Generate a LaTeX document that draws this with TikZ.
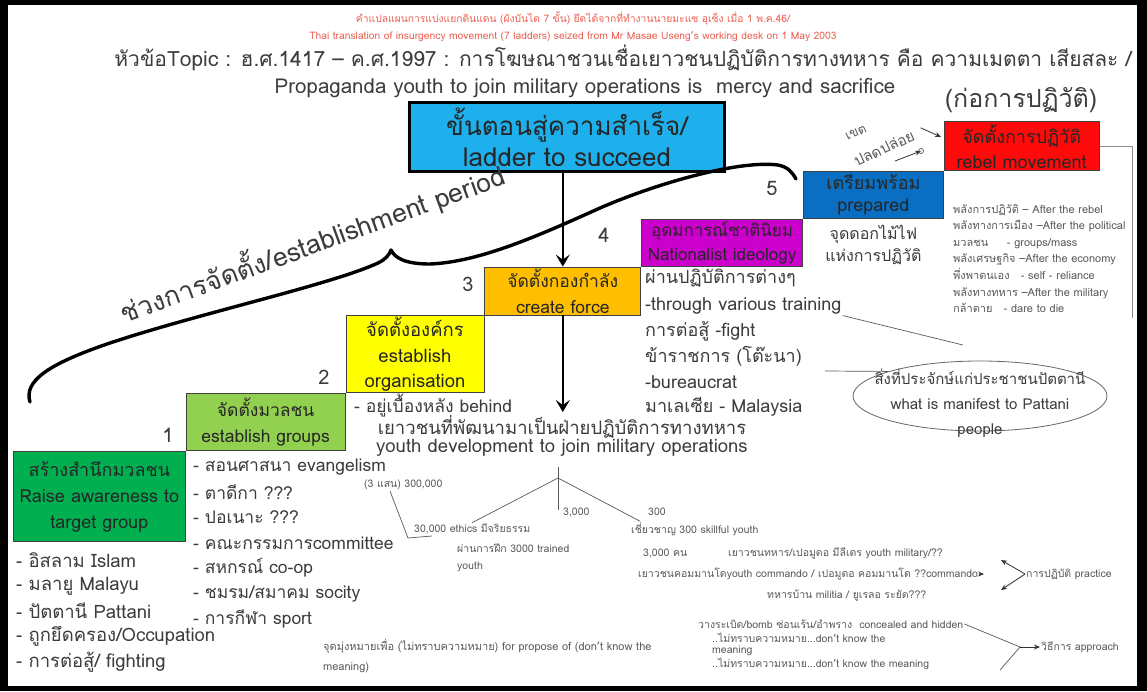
\documentclass[tikz,border=0pt]{standalone}
\usepackage{fontspec}
\setmainfont{Loma}[Script=Thai]
\usetikzlibrary{arrows.meta,shapes.geometric,positioning}

\definecolor{cyanbox}{HTML}{1EB0EC}
\definecolor{redbox}{HTML}{FF0A0A}
\definecolor{bluebox}{HTML}{0A6FC2}
\definecolor{magentabox}{HTML}{CC00CC}
\definecolor{orangebox}{HTML}{FFBF00}
\definecolor{yellowbox}{HTML}{FFFF00}
\definecolor{limebox}{HTML}{92D050}
\definecolor{greenbox}{HTML}{00B050}
\definecolor{headred}{HTML}{EC5F50}
\definecolor{inkgray}{HTML}{3C3C3C}
\definecolor{notegray}{HTML}{5A5A5A}

\begin{document}
\begin{tikzpicture}[x=1pt,y=-1pt,
  stepbox/.style={draw=black!75,line width=0.8pt,inner sep=0pt,align=center,text=black!85,font={\fontsize{17.5}{26}\selectfont}},
  stepnum/.style={text=inkgray,font={\fontsize{20}{22}\selectfont}},
  bigline/.style={text=inkgray,anchor=west,inner sep=1pt,font={\fontsize{17.5}{20}\selectfont}},
  smallnote/.style={text=notegray,anchor=west,inner sep=1pt,font={\fontsize{10.5}{12}\selectfont}},
  thinline/.style={draw=black!65,line width=0.7pt},
  tipline/.style={draw=black!80,line width=0.8pt,-{Stealth[length=6pt,width=5pt]}},
  bigarrow/.style={draw=black,line width=1.8pt,-{Stealth[length=12pt,width=14pt,inset=5pt]}}]
  % frame
  \fill[black] (0,0) rectangle (1147,691);
  \fill[white] (8,5) rectangle (1137,686);

  % headings
  \node[text=headred,font={\fontsize{10.3}{12}\selectfont}] (head th) at (573,18) {คำแปลแผนการแบ่งแยกดินแดน (ผังบันได 7 ขั้น) ยึดได้จากที่ทำงานนายมะแซ อุเซ็ง เมื่อ 1 พ.ค.46/};
  \node[text=headred,font={\fontsize{10.3}{12}\selectfont}] (head en) at (573,37) {Thai translation of insurgency movement (7 ladders) seized from Mr Masae Useng's working desk on 1 May 2003};
  \node[text=inkgray,font={\fontsize{21}{24}\selectfont}] (topic th) at (623,58) {หัวข้อTopic : ฮ.ศ.1417 – ค.ศ.1997 : การโฆษณาชวนเชื่อเยาวชนปฏิบัติการทางทหาร คือ ความเมตตา เสียสละ /};
  \node[text=inkgray,font={\fontsize{20.5}{24}\selectfont}] (topic en) at (585,88) {Propaganda youth to join military operations is\ \ mercy and sacrifice};
  \node[text=inkgray,font={\fontsize{25}{28}\selectfont}] (revolt) at (1021,100) {(ก่อการปฏิวัติ)};

  % ladder of seven steps
  \node[stepbox,fill=cyanbox,draw=black,line width=2.2pt,minimum width=315,minimum height=69,font={\fontsize{26}{31}\selectfont}] (ladder top) at (567,137) {ขั้นตอนสู่ความสำเร็จ/\\ladder to succeed};
  \node[stepbox,fill=greenbox,minimum width=172,minimum height=90,font={\fontsize{18}{26}\selectfont},anchor=north west] (awareness) at (13,451) {สร้างสำนึกมวลชน\\Raise awareness to\\target group};
  \node[stepbox,fill=limebox,minimum width=159,minimum height=57,anchor=south west] (groups) at (awareness.north east) {จัดตั้งมวลชน\\establish groups};
  \node[stepbox,fill=yellowbox,minimum width=138,minimum height=77,font={\fontsize{18.5}{25.5}\selectfont},anchor=south west] (organisation) at (groups.north east) {จัดตั้งองค์กร\\establish\\organisation};
  \node[stepbox,fill=orangebox,minimum width=156,minimum height=48,font={\fontsize{17.5}{26}\selectfont},anchor=south west] (force) at (organisation.north east) {จัดตั้งกองกำลัง\\create force};
  \node[stepbox,fill=magentabox,minimum width=161,minimum height=47,font={\fontsize{17}{24}\selectfont},anchor=south west] (ideology) at (force.north east) {อุดมการณ์ชาตินิยม\\Nationalist ideology};
  \node[stepbox,fill=bluebox,minimum width=140,minimum height=47,font={\fontsize{18}{22}\selectfont},anchor=south west] (prepared) at (ideology.north east) {เตรียมพร้อม\\prepared};
  \node[stepbox,fill=redbox,minimum width=155,minimum height=49,font={\fontsize{18}{25}\selectfont},anchor=south west] (rebel) at (prepared.north east) {จัดตั้งการปฏิวัติ\\rebel movement};

  \node[stepnum] (num 1) at (168,435) {1};
  \node[stepnum] (num 2) at (324,377) {2};
  \node[stepnum] (num 3) at (468,284) {3};
  \node[stepnum] (num 4) at (604,235) {4};
  \node[stepnum] (num 5) at (772,188) {5};

  % brace over the establishment period
  \draw[line width=3.4pt,line cap=round,line join=round]
    (30,402) .. controls (24,382) and (45,365) .. (110,343)
    .. controls (200,313) and (330,285) .. (378,263)
    .. controls (386,259) and (389,255) .. (391,250)
    .. controls (395,258) and (405,264) .. (430,264)
    .. controls (480,262) and (540,235) .. (600,208)
    .. controls (660,182) and (740,160) .. (778,165)
    .. controls (788,167) and (792,172) .. (796,179);
  \node[rotate=20,text=inkgray,font={\fontsize{26.5}{28}\selectfont}] (period) at (312,243) {ช่วงการจัดตั้ง/establishment period};

  % arrows down the middle
  \node[text=inkgray,align=center,font={\fontsize{18.5}{15}\selectfont}] (youth dev) at (562,436) {เยาวชนที่พัฒนามาเป็นฝ่ายปฏิบัติการทางทหาร\\youth development to join military operations};
  \draw[bigarrow] (ladder top.south -| force.north) -- (force.north);
  \draw[bigarrow] (force.south) -- (force.south |- youth dev.north);
  \node[bigline] (behind) at (353,406) {- อยู่เบื้องหลัง behind};

  % liberation zone
  \node[rotate=25,text=notegray,font={\fontsize{13}{14}\selectfont}] (zone) at (856,133) {เขต};
  \node[rotate=25,text=notegray,font={\fontsize{15}{16}\selectfont}] (free) at (884,148) {ปลดปล่อย};
  \coordinate (free tip) at (941,137);
  \coordinate (free base) at (895,161);
  \coordinate (free knot) at (921,151);
  \draw[tipline] ([shift={(4,-5)}]free.east) -- (free tip);
  \draw[tipline] (free base) -- (free knot);
  \draw[thinline] (free knot) circle (2.5);

  % after the rebellion
  \coordinate (rebel end) at (1132,318);
  \draw[thinline,draw=black!45] (rebel.east) -| (rebel end);
  \node[smallnote,anchor=north west,align=left,font={\fontsize{11}{16.6}\selectfont}] (rebel powers) at (952,203) {พลังการปฏิวัติ – After the rebel\\พลังทางการเมือง –After the political\\มวลชน\ \ \ \ \ - groups/mass\\พลังเศรษฐกิจ –After the economy\\พึ่งพาตนเอง\ \ \ - self - reliance\\พลังทางทหาร –After the military\\กล้าตาย\ \ \ - dare to die};
  \node[below=3pt of prepared,align=center,text=inkgray,font={\fontsize{16}{22}\selectfont}] (fireworks) {จุดดอกไม้ไฟ\\แห่งการปฏิวัติ};

  % training list
  \node[bigline,font={\fontsize{18}{20}\selectfont}] (through th) at (644,278) {ผ่านปฏิบัติการต่างๆ};
  \node[bigline,font={\fontsize{18}{20}\selectfont}] (through en) at (644,306) {-through various training};
  \node[bigline,font={\fontsize{18}{20}\selectfont}] (fight) at (644,331) {การต่อสู้ -fight};
  \node[bigline,font={\fontsize{18}{20}\selectfont}] (bureau th) at (644,356) {ข้าราชการ (โต๊ะนา)};
  \node[bigline,font={\fontsize{18}{20}\selectfont}] (bureau en) at (644,382) {-bureaucrat};
  \node[bigline,font={\fontsize{18}{20}\selectfont}] (malaysia) at (644,407) {มาเลเซีย - Malaysia};

  \node[ellipse,draw=black!60,line width=0.8pt,minimum width=254,minimum height=70] (manifest ring) at (980,396) {};
  \node[align=center,text=inkgray,font={\fontsize{15}{25}\selectfont}] (manifest) at (980,403) {สิ่งที่ประจักษ์แก่ประชาชนปัตตานี\\what is manifest to Pattani\\people};
  \coordinate (ring top) at (963,345);
  \coordinate (bureau mark) at (825,371);
  \draw[thinline] (through en.south east) -- (ring top);
  \draw[thinline] (bureau mark) -- (manifest ring.165);

  % groups list
  \node[bigline] (evangelism) at (192,467) {- สอนศาสนา evangelism};
  \node[bigline] (tadika) at (192,492) {- ตาดีกา ???};
  \node[bigline] (pondok) at (192,517) {- ปอเนาะ ???};
  \node[bigline] (committee) at (192,543) {- คณะกรรมการcommittee};
  \node[bigline] (coop) at (192,568) {- สหกรณ์ co-op};
  \node[bigline] (society) at (192,594) {- ชมรม/สมาคม socity};
  \node[bigline] (sport) at (192,619) {- การกีฬา sport};

  % awareness list
  \node[bigline,font={\fontsize{18.5}{20}\selectfont}] (islam) at (15,560) {- อิสลาม Islam};
  \node[bigline,font={\fontsize{18.5}{20}\selectfont}] (malayu) at (15,586) {- มลายู Malayu};
  \node[bigline,font={\fontsize{18.5}{20}\selectfont}] (pattani) at (15,611) {- ปัตตานี Pattani};
  \node[bigline,font={\fontsize{18.5}{20}\selectfont}] (occupation) at (15,636) {- ถูกยึดครอง/Occupation};
  \node[bigline,font={\fontsize{18.5}{20}\selectfont}] (fighting) at (15,662) {- การต่อสู้/ fighting};

  % youth counts
  \coordinate (tree top) at (558,467);
  \coordinate (tree fork) at (558,478);
  \coordinate (tree foot) at (558,510);
  \node[smallnote] (count 300000) at (363,485) {(3 แสน) 300,000};
  \node[smallnote] (count 3000) at (562,512) {3,000};
  \node[smallnote] (count 300) at (647,512) {300};
  \node[smallnote] (ethics) at (413,529) {30,000 ethics มีจริยธรรม};
  \node[smallnote] (skillful) at (630,529) {เชี่ยวชาญ 300 skillful youth};
  \node[smallnote,anchor=north west,align=left,font={\fontsize{10.5}{17}\selectfont}] (trained) at (456,543) {ผ่านการฝึก 3000 trained\\youth};
  \coordinate (count bend) at (408,538);
  \draw[thinline] (tree top) -- (tree foot);
  \draw[thinline] (tree fork) -- (ethics.north);
  \draw[thinline] (tree fork) -- ([xshift=10pt]skillful.north west);
  \draw[thinline] ([xshift=27pt]count 300000.south west) -- (count bend) -- ++(24,-2);

  % practice
  \node[smallnote] (people 3000) at (642,553) {3,000 คน};
  \node[smallnote] (youth military) at (727,553) {เยาวชนทหาร/เปอมูดอ มีลีเดร youth military/??};
  \node[smallnote] (commando) at (637,574) {เยาวชนคอมมานโดyouth commando / เปอมูดอ คอมมานโด ??commando};
  \node[smallnote] (militia) at (766,595) {ทหารบ้าน militia / ยูเรลอ ระยัต???};
  \node[smallnote] (practice) at (1025,574) {การปฏิบัติ practice};
  \coordinate (commando tip) at (984,574);
  \draw[tipline] (commando.east) -- (commando tip);
  \draw[tipline] (practice.west) -- ++(-24,-14);
  \draw[tipline] (practice.west) -- ++(-24,16);

  % approach
  \node[smallnote,anchor=north west,align=left,font={\fontsize{11}{20}\selectfont}] (purpose) at (322,638) {จุดมุ่งหมายเพื่อ (ไม่ทราบความหมาย) for propose of (don't know the\\meaning)};
  \node[smallnote] (bomb) at (697,624) {วางระเบิด/bomb ซ่อนเร้น/อำพราง\ \ concealed and hidden};
  \node[smallnote,anchor=north west,align=left,font={\fontsize{10.5}{10.5}\selectfont}] (unknown 1) at (711,632) {..ไม่ทราบความหมาย...don't know the\\meaning};
  \node[smallnote] (unknown 2) at (711,664) {..ไม่ทราบความหมาย...don't know the meaning};
  \node[smallnote] (approach) at (1040,647) {วิธีการ approach};
  \coordinate (approach fork) at (1020,647);
  \coordinate (approach foot) at (1000,670);
  \draw[thinline] (bomb.east) -- (approach fork) -- (approach foot);
  \draw[tipline] (approach fork) -- (approach.west);
\end{tikzpicture}
\end{document}
